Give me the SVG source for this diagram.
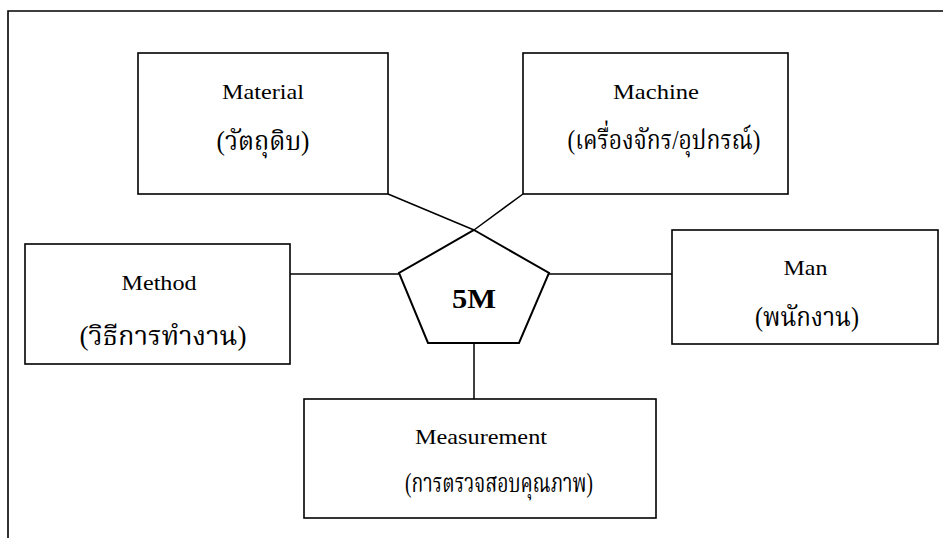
<svg xmlns="http://www.w3.org/2000/svg" width="943" height="538" viewBox="0 0 943 538">
  <style>
    .box { fill: #ffffff; stroke: #000000; stroke-width: 1.6; }
    .frame { fill: none; stroke: #000000; stroke-width: 1.6; }
    .link { fill: none; stroke: #000000; stroke-width: 1.5; }
    .hub { fill: #ffffff; stroke: #000000; stroke-width: 2; stroke-linejoin: miter; }
    .en { font-family: "Liberation Serif", "Times New Roman", serif; font-size: 21px; fill: #000000; text-anchor: middle; }
    .th { font-family: "Liberation Serif", "Noto Serif Thai", "Noto Sans Thai", "Loma", "Garuda", "Noto Sans CJK SC", serif; font-size: 27px; fill: #000000; text-anchor: middle; }
    .hubtext { font-family: "Liberation Serif", "Times New Roman", serif; font-size: 27px; font-weight: bold; fill: #000000; text-anchor: middle; }
  </style>

  <rect x="0" y="0" width="943" height="538" fill="#ffffff"/>

  <!-- page frame -->
  <path class="frame" d="M8,538 V11 H943"/>

  <!-- connectors -->
  <g id="connectors">
    <line class="link" x1="388" y1="194" x2="474" y2="230"/>
    <line class="link" x1="523" y1="194" x2="474" y2="230"/>
    <line class="link" x1="290" y1="274" x2="399" y2="274"/>
    <line class="link" x1="549" y1="274" x2="672" y2="274"/>
    <line class="link" x1="474" y1="343" x2="474" y2="399"/>
  </g>

  <g id="material">
    <rect class="box" x="138" y="53" width="250" height="141"/>
    <text class="en" x="263" y="98.5" textLength="82" lengthAdjust="spacingAndGlyphs">Material</text>
    <text class="th" x="263" y="150" textLength="93" lengthAdjust="spacingAndGlyphs">(วัตถุดิบ)</text>
  </g>

  <g id="machine">
    <rect class="box" x="523" y="53" width="265" height="141"/>
    <text class="en" x="656" y="99" textLength="86" lengthAdjust="spacingAndGlyphs">Machine</text>
    <text class="th" x="664" y="149" textLength="193" lengthAdjust="spacingAndGlyphs">(เครื่องจักร/อุปกรณ์)</text>
  </g>

  <g id="method">
    <rect class="box" x="25" y="244" width="265" height="120"/>
    <text class="en" x="159" y="289.5" textLength="75" lengthAdjust="spacingAndGlyphs">Method</text>
    <text class="th" x="163" y="345" textLength="167" lengthAdjust="spacingAndGlyphs">(วิธีการทำงาน)</text>
  </g>

  <g id="man">
    <rect class="box" x="672" y="230" width="266" height="114"/>
    <text class="en" x="805.5" y="275" textLength="44" lengthAdjust="spacingAndGlyphs">Man</text>
    <text class="th" x="807" y="326" textLength="104" lengthAdjust="spacingAndGlyphs">(พนักงาน)</text>
  </g>

  <g id="measurement">
    <rect class="box" x="304" y="399" width="352" height="119"/>
    <text class="en" x="481" y="443.5" textLength="132" lengthAdjust="spacingAndGlyphs">Measurement</text>
    <text class="th" x="499" y="492" textLength="188" lengthAdjust="spacingAndGlyphs">(การตรวจสอบคุณภาพ)</text>
  </g>

  <g id="hub">
    <polygon class="hub" points="474,230 549,273 519,343 428,343 399,273"/>
    <text class="hubtext" x="474" y="308" textLength="44" lengthAdjust="spacingAndGlyphs">5M</text>
  </g>
</svg>
